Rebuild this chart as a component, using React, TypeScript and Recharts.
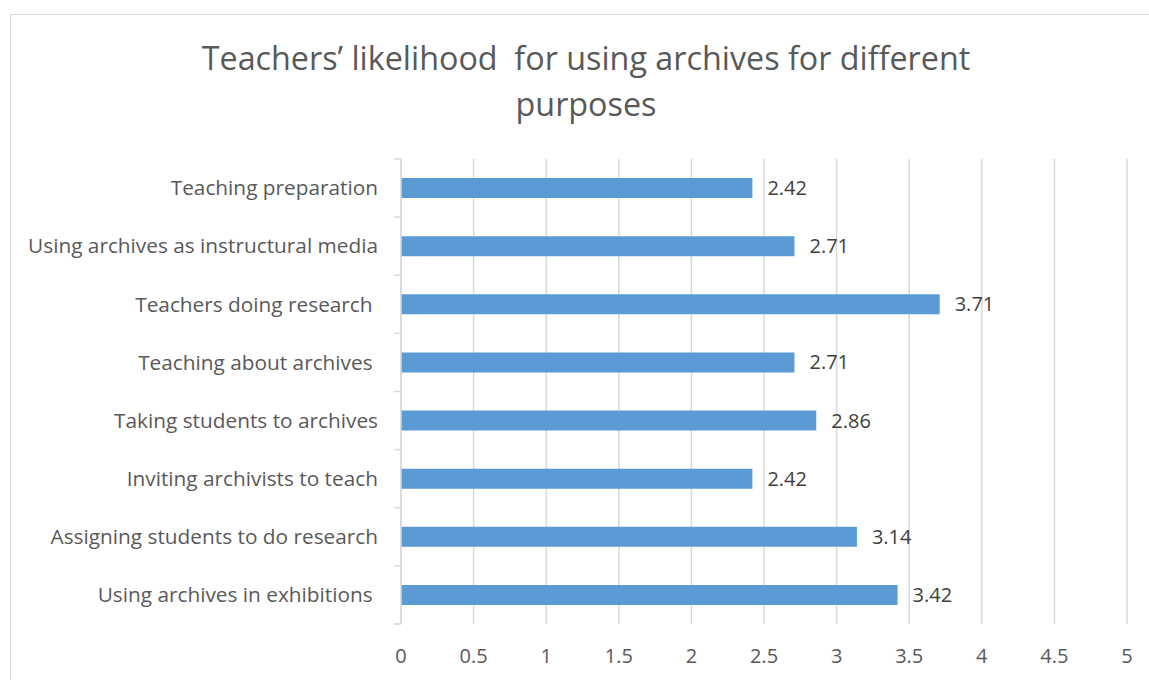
import React from 'react';
import { BarChart, Bar, XAxis, YAxis, CartesianGrid, LabelList } from 'recharts';

const categories = [
  'Teaching preparation',
  'Using archives as instructural media',
  'Teachers doing research ',
  'Teaching about archives ',
  'Taking students to archives',
  'Inviting archivists to teach',
  'Assigning students to do research',
  'Using archives in exhibitions ',
];
const values = [2.42, 2.71, 3.71, 2.71, 2.86, 2.42, 3.14, 3.42];
const xTicks = [0, 0.5, 1, 1.5, 2, 2.5, 3, 3.5, 4, 4.5, 5];
const titleLines = ['Teachers’ likelihood  for using archives for different', 'purposes'];

const data = categories.map((name, i) => ({ name, value: values[i] }));

const FONT = '"Open Sans", "Noto Sans", sans-serif';
const TEXT = '#595959';
const GRID = '#d9d9d9';
const TICK_LEN = 7;
const TICK_GAP = 16;

const CategoryTick = (props: any) => {
  const { x, y, payload, index, visibleTicksCount } = props;
  const half = payload && payload.offset ? payload.offset : 0;
  const lx1 = x + TICK_GAP;
  const lx2 = x + TICK_GAP + TICK_LEN;
  const isLast = index === (visibleTicksCount ?? categories.length) - 1;
  return (
    <g>
      <line x1={lx1} x2={lx2} y1={y - half} y2={y - half} stroke={GRID} strokeWidth={1.5} />
      {isLast && <line x1={lx1} x2={lx2} y1={y + half} y2={y + half} stroke={GRID} strokeWidth={1.5} />}
      <text x={x} y={y} dy="0.35em" textAnchor="end" fill={TEXT} fontSize={20.8} fontFamily={FONT} style={{ whiteSpace: 'pre' }}>
        {payload.value}
      </text>
    </g>
  );
};

export default function App() {
  return (
    <div style={{ position: 'absolute', left: 0, top: 0, width: 1149, height: 680, background: '#fff', fontFamily: FONT, overflow: 'hidden' }}>
      <div style={{ position: 'absolute', left: 10, top: 14, width: 1160, height: 700, border: `1px solid ${GRID}`, boxSizing: 'border-box' }} />
      <div style={{ position: 'absolute', left: 186, top: 34, width: 800, textAlign: 'center', fontSize: 32.3, color: TEXT, lineHeight: '46px', whiteSpace: 'pre' }}>
        {titleLines.map((l) => (
          <div key={l}>{l}</div>
        ))}
      </div>
      <div style={{ position: 'absolute', left: 0, top: 0 }}>
        <BarChart layout="vertical" width={1149} height={680} data={data} margin={{ top: 159, right: 22, bottom: 0, left: 0 }}>
          <CartesianGrid horizontal={false} stroke={GRID} strokeWidth={1.5} />
          <XAxis
            type="number"
            domain={[0, 5]}
            ticks={xTicks}
            axisLine={false}
            tickLine={false}
            tickSize={0}
            tickMargin={25}
            height={56}
            tick={{ fill: TEXT, fontSize: 20, fontFamily: FONT }}
          />
          <YAxis
            type="category"
            dataKey="name"
            width={401}
            axisLine={{ stroke: GRID, strokeWidth: 1.5 }}
            tickLine={false}
            tickSize={0}
            tickMargin={TICK_GAP + TICK_LEN}
            interval={0}
            tick={<CategoryTick />}
          />
          <Bar dataKey="value" fill="#5B9BD5" barSize={20} isAnimationActive={false}>
            <LabelList dataKey="value" position="right" offset={15} fill="#404040" fontSize={20} fontFamily={FONT} />
          </Bar>
        </BarChart>
      </div>
    </div>
  );
}
